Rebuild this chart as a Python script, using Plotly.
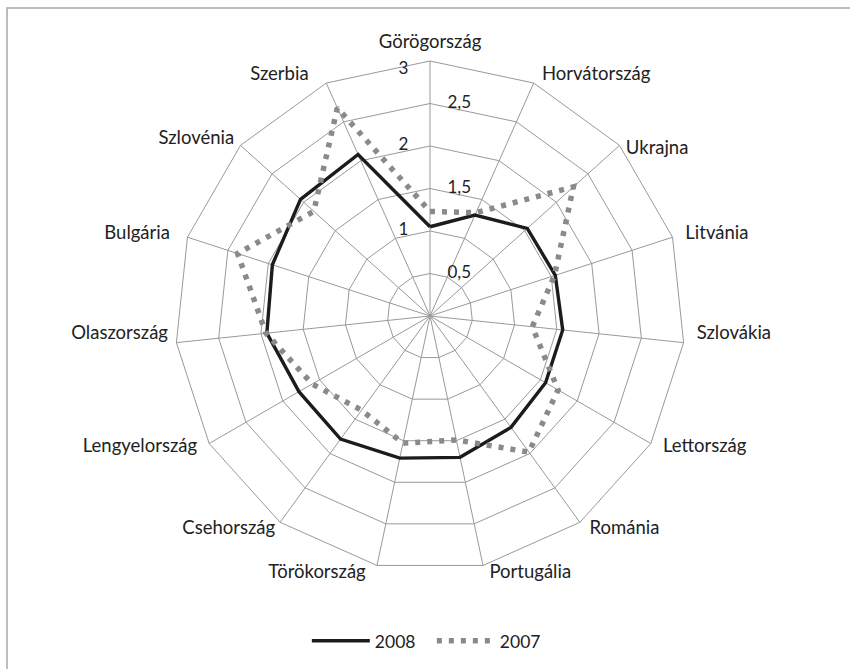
import plotly.graph_objects as go

categories = ["Görögország", "Horvátország", "Ukrajna", "Litvánia", "Szlovákia",
              "Lettország", "Románia", "Portugália", "Törökország", "Csehország",
              "Lengyelország", "Olaszország", "Bulgária", "Szlovénia", "Szerbia"]
values_2008 = [1.05, 1.30, 1.54, 1.55, 1.57, 1.57, 1.62, 1.70, 1.71, 1.79, 1.78, 1.93, 1.95, 2.05, 2.08]
values_2007 = [1.23, 1.33, 2.27, 1.54, 1.21, 1.74, 1.98, 1.49, 1.53, 1.37, 1.60, 1.94, 2.38, 1.84, 2.68]
tick_values = [0, 0.5, 1, 1.5, 2, 2.5, 3]
tick_labels = ["0", "0,5", "1", "1,5", "2", "2,5", "3"]
R_MAX = 3

# label styling / placement (not data)
tick_sides = ["middle left", "middle right", "middle left", "middle right",
              "middle left", "middle right", "bottom left"]
tick_pads = {"middle left": ("", "     "), "middle right": ("    ", ""), "bottom left": ("", "     ")}
cat_sides = ["top center", "middle right", "bottom right", "middle right", "top right",
             "middle right", "middle right", "middle right", "middle left", "middle left",
             "middle left", "top left", "middle left", "middle left", "middle left"]
cat_lead = [0, 1, 0, 1, 1, 1, 1, 1, 0, 0, 0, 0, 0, 0, 0]
cat_trail = [0, 0, 0, 0, 0, 0, 0, 0, 2, 0, 1, 0, 2, 0, 3]
LABEL_R = 3.1           # radius at which the category labels are anchored
AXIS_R = 3.1            # visible radial range (labels must be inside it)

FONT = "Lato, 'Open Sans', sans-serif"
GRID = "#999999"
TEXT = "#222222"

# polar area: outer ring (r = 3) has 255 px radius around (430, 316)
rad_px = 255 * AXIS_R / R_MAX
cx, cy, W, H = 430, 316, 850, 669

fig = go.Figure()
# spokes
spoke_r, spoke_t = [], []
for c in categories:
    spoke_r += [0, R_MAX, None]
    spoke_t += [c, c, None]
fig.add_trace(go.Scatterpolar(
    r=spoke_r, theta=spoke_t, mode="lines", connectgaps=False,
    line=dict(color=GRID, width=1), showlegend=False, hoverinfo="skip"))
fig.add_trace(go.Scatterpolar(
    r=values_2008 + values_2008[:1], theta=categories + categories[:1],
    mode="lines", name="2008",
    line=dict(color="#1c1c1c", width=3.4)))
fig.add_trace(go.Scatterpolar(
    r=values_2007 + values_2007[:1], theta=categories + categories[:1],
    mode="lines", name="2007",
    line=dict(color="#8a8a8a", width=5.5, dash="5px,7px")))
fig.add_trace(go.Scatterpolar(
    r=tick_values, theta=[categories[0]] * len(tick_values),
    mode="text",
    text=[tick_pads[s][0] + t + tick_pads[s][1] for t, s in zip(tick_labels, tick_sides)],
    textposition=tick_sides,
    textfont=dict(family=FONT, size=17, color=TEXT),
    showlegend=False, hoverinfo="skip", cliponaxis=False))
fig.add_trace(go.Scatterpolar(
    r=[LABEL_R] * len(categories), theta=categories,
    mode="text",
    text=[" " * a + c + " " * b for c, a, b in zip(categories, cat_lead, cat_trail)],
    textposition=cat_sides,
    textfont=dict(family=FONT, size=18.5, color=TEXT),
    showlegend=False, hoverinfo="skip", cliponaxis=False))

fig.update_layout(
    width=W, height=H,
    margin=dict(l=0, r=0, t=0, b=0),
    paper_bgcolor="white",
    font=dict(family=FONT, size=16, color=TEXT),
    polar=dict(
        domain=dict(x=[(cx - rad_px) / W, (cx + rad_px) / W],
                    y=[1 - (cy + rad_px) / H, 1 - (cy - rad_px) / H]),
        gridshape="linear",
        bgcolor="rgba(0,0,0,0)",
        radialaxis=dict(range=[0, AXIS_R], tickvals=tick_values[1:], showticklabels=False,
                        ticks="", showline=False, gridcolor=GRID, gridwidth=1),
        angularaxis=dict(rotation=90, direction="clockwise", ticks="",
                         showticklabels=False, showline=False, showgrid=False),
    ),
    legend=dict(orientation="h", x=0.361, xanchor="left", y=0.042, yanchor="middle",
                itemwidth=58, entrywidth=52, entrywidthmode="pixels",
                font=dict(family=FONT, size=17.5, color=TEXT)),
    shapes=[dict(type="rect", xref="paper", yref="paper",
                 x0=7 / W, x1=1.02, y0=-0.02, y1=1 - 8 / H,
                 line=dict(color="#a8a8a8", width=1.5))],
)

fig.write_html("out.html", config={"displayModeBar": False},
               post_script="document.body.style.margin='0px';")
